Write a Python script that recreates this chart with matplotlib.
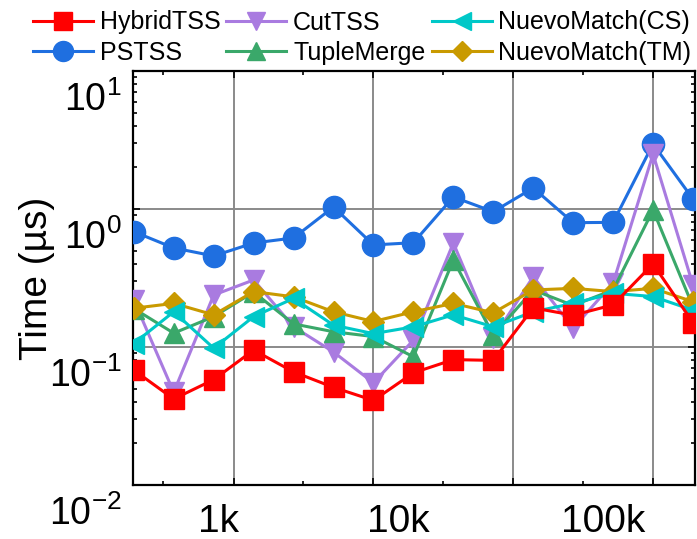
import numpy as np
import matplotlib
matplotlib.use("Agg")
import matplotlib.pyplot as plt
import matplotlib.transforms as mtransforms
from matplotlib.ticker import FixedLocator, LogLocator, NullFormatter

plt.rcParams['font.family'] = ['Liberation Sans', 'DejaVu Sans']
plt.rcParams['mathtext.fontset'] = 'custom'
plt.rcParams['mathtext.rm'] = 'Liberation Sans'
plt.rcParams['mathtext.it'] = 'Liberation Sans:italic'
plt.rcParams['mathtext.bf'] = 'Liberation Sans:bold'

# ---- data (15 rule-set sizes, time in microseconds) ----
hybrid_tss = [0.068, 0.042, 0.058, 0.095, 0.066, 0.051, 0.041, 0.065, 0.081, 0.080, 0.192, 0.170, 0.202, 0.400, 0.150]
pstss      = [0.685, 0.522, 0.457, 0.567, 0.617, 1.034, 0.549, 0.570, 1.222, 0.956, 1.420, 0.796, 0.800, 2.960, 1.180]
cut_tss    = [0.219, 0.047, 0.238, 0.306, 0.140, 0.092, 0.055, 0.112, 0.567, 0.116, 0.323, 0.137, 0.291, 2.500, 0.281]
tuple_merge= [0.190, 0.126, 0.166, 0.250, 0.147, 0.129, 0.119, 0.085, 0.427, 0.122, 0.259, 0.200, 0.259, 0.983, 0.196]
nm_cs      = [0.106, 0.180, 0.098, 0.166, 0.225, 0.144, 0.125, 0.140, 0.171, 0.140, 0.180, 0.207, 0.245, 0.232, 0.185]
nm_tm      = [0.191, 0.207, 0.171, 0.252, 0.231, 0.180, 0.153, 0.180, 0.207, 0.177, 0.259, 0.266, 0.252, 0.266, 0.213]

x_tick_labels = ['1k', '10k', '100k']
x_label_pos = [2.125, 6.625, 11.75]
x_grid_pos = [2.5, 6.0, 9.5, 13.0]
x_minor_pos = [0.73, 4.23, 7.75, 11.25]
y_ticks = [1e-2, 1e-1, 1e0, 1e1]
y_tick_labels = ['$10^{-2}$', '$10^{-1}$', '$10^{0}$', '$10^{1}$']

x = np.arange(len(pstss))

fig = plt.figure(figsize=(6.97, 5.39), dpi=100)
ax = fig.add_axes([133/697, 1-485/539, (695-133)/697, (485-71)/539])

lw = 2.2
series = [
    ('HybridTSS', hybrid_tss, '#FF0000', 's', 14, 10),
    ('PSTSS', pstss, '#1F6FE0', 'o', 16, 4),
    ('CutTSS', cut_tss, '#A97BE0', 'v', 15, 5),
    ('TupleMerge', tuple_merge, '#3AA86A', '^', 15, 6),
    ('NuevoMatch(CS)', nm_cs, '#00C8C8', '<', 15, 8),
    ('NuevoMatch(TM)', nm_tm, '#C99A00', 'D', 11.5, 7),
]
handles = {}
for name, vals, col, mk, ms, z in series:
    h, = ax.plot(x, vals, color=col, marker=mk, markersize=ms, linewidth=lw,
                 markeredgecolor=col, markeredgewidth=1, zorder=z, label=name)
    handles[name] = h

ax.set_yscale('log')
ax.set_ylim(1e-2, 1e1)
ax.set_xlim(-0.02, 14.05)

ax.xaxis.set_major_locator(FixedLocator(x_grid_pos))
ax.xaxis.set_minor_locator(FixedLocator(x_minor_pos))
ax.set_xticklabels([])
ax.set_yticks(y_ticks)
ax.set_yticklabels(y_tick_labels)
ax.yaxis.set_minor_locator(LogLocator(base=10, subs=np.arange(2, 10)))
ax.yaxis.set_minor_formatter(NullFormatter())

ax.grid(True, which='major', color='#8a8a8a', linewidth=1.4, zorder=0)
ax.set_axisbelow(True)
ax.tick_params(which='both', direction='in', top=True, right=True, width=1.2)
ax.tick_params(which='major', length=5)
ax.tick_params(which='minor', length=3)
ax.tick_params(axis='y', which='major', labelsize=27, pad=8)
for sp in ax.spines.values():
    sp.set_linewidth(1.6)

# shift y tick labels downward as in the reference
offset = mtransforms.ScaledTranslation(0, -0.25, fig.dpi_scale_trans)
for lab in ax.get_yticklabels():
    lab.set_transform(lab.get_transform() + offset)

sec = ax.secondary_xaxis('bottom')
sec.set_xticks(x_label_pos, labels=x_tick_labels)
sec.tick_params(length=0, labelsize=28, pad=14)
sec.spines['bottom'].set_visible(False)

ax.set_ylabel('Time (µs)', fontsize=28, labelpad=-4)

order = ['HybridTSS', 'PSTSS', 'CutTSS', 'TupleMerge', 'NuevoMatch(CS)', 'NuevoMatch(TM)']
fig.legend([handles[n] for n in order], order, ncol=3, loc='upper left',
           bbox_to_anchor=(30/697, 1 - 8/539), frameon=False, fontsize=18,
           handlelength=2.4, handletextpad=0.28, columnspacing=0.24,
           labelspacing=0.25, borderaxespad=0.0, borderpad=0.1, markerscale=0.9)

fig.savefig('out.png', dpi=100)
